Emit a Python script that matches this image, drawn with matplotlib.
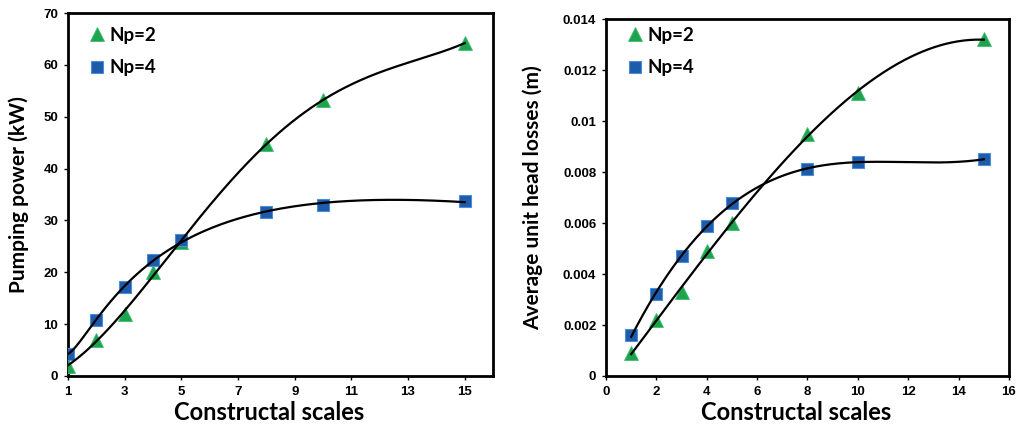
import numpy as np
import matplotlib
matplotlib.use('Agg')
import matplotlib.pyplot as plt

# constructal scales tested
scales = [1, 2, 3, 4, 5, 8, 10, 15]

# pumping power (kW)
power_np2 = [2.0, 7.0, 12.0, 20.0, 25.8, 44.8, 53.2, 64.2]
power_np4 = [4.3, 10.8, 17.2, 22.3, 26.2, 31.7, 33.0, 33.7]

# average unit head losses (m)
head_np2 = [0.0009, 0.0022, 0.0033, 0.0049, 0.0060, 0.0095, 0.0111, 0.0132]
head_np4 = [0.0016, 0.0032, 0.0047, 0.0059, 0.0068, 0.0081, 0.0084, 0.0085]

GREEN = '#1ea34e'
BLUE = '#1f5bab'
LABEL_FONT = 'Lato'
TICK_FONT = 'Liberation Sans'


def trend(ax, x, y, deg, logx=False):
    # least-squares polynomial trend line (optionally in log of the scale)
    x = np.asarray(x, float)
    xs = np.linspace(x.min(), x.max(), 300)
    if logx:
        ys = np.polyval(np.polyfit(np.log(x), y, deg), np.log(xs))
    else:
        ys = np.polyval(np.polyfit(x, y, deg), xs)
    ax.plot(xs, ys, color='black', lw=1.6, zorder=4)


def draw_panel(ax, y2, y4, deg2, log4, leg_x):
    ax.plot(scales, y2, linestyle='none', marker='^', ms=10, color=GREEN,
            mec='#3cc070', mew=0.6, label='Np=2', zorder=3)
    ax.plot(scales, y4, linestyle='none', marker='s', ms=8, color=BLUE,
            mec='#4a8ed6', mew=0.8, label='Np=4', zorder=3)
    trend(ax, scales, y2, deg2)
    trend(ax, scales, y4, 3, logx=log4)
    for sp in ax.spines.values():
        sp.set_linewidth(2)
    ax.tick_params(direction='out', length=3, width=1, pad=4)
    for lab in ax.get_xticklabels() + ax.get_yticklabels():
        lab.set_fontfamily(TICK_FONT)
        lab.set_fontweight('bold')
        lab.set_fontsize(9.5)
    ax.set_xlabel('Constructal scales', fontfamily=LABEL_FONT,
                  fontweight='bold', fontsize=17)
    ax.xaxis.set_label_coords(0.473, -0.07)
    ax.legend(loc='upper left', bbox_to_anchor=(leg_x, 0.9556),
              bbox_transform=fig.transFigure, borderaxespad=0,
              frameon=False, handletextpad=0.1, handlelength=1.2,
              labelspacing=0.85,
              prop={'family': LABEL_FONT, 'weight': 'bold', 'size': 13.5})


fig = plt.figure(figsize=(10.17, 4.28), dpi=100)

ax1 = fig.add_axes([0.0669, 0.1215, 0.4179, 0.848])
ax1.set_xlim(1, 16)
ax1.set_ylim(0, 70)
ax1.set_xticks([1, 3, 5, 7, 9, 11, 13, 15])
ax1.set_yticks(range(0, 71, 10))
draw_panel(ax1, power_np2, power_np4, 4, True, 78 / 1017)
ax1.set_ylabel('Pumping power (kW)', fontfamily=LABEL_FONT,
               fontweight='bold', fontsize=15)
ax1.yaxis.set_label_coords(-0.092, 0.5)

ax2 = fig.add_axes([0.5959, 0.1215, 0.3962, 0.834])
ax2.set_xlim(0, 16)
ax2.set_ylim(0, 0.014)
ax2.set_xticks(range(0, 17, 2))
ax2.set_yticks(np.arange(0, 0.0141, 0.002))
ax2.set_yticklabels(['0', '0.002', '0.004', '0.006', '0.008', '0.01',
                     '0.012', '0.014'])
draw_panel(ax2, head_np2, head_np4, 3, False, 616 / 1017)
ax2.set_ylabel('Average unit head losses (m)', fontfamily=LABEL_FONT,
               fontweight='bold', fontsize=15)
ax2.yaxis.set_label_coords(-0.156, 0.5)

fig.savefig('out.png', dpi=100)
